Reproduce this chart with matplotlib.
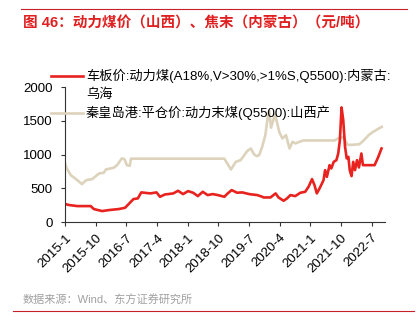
import pandas as pd
import matplotlib
matplotlib.use('Agg')
import matplotlib.pyplot as plt
from matplotlib.lines import Line2D

plt.rcParams['font.family'] = ['Liberation Sans', 'Noto Sans CJK SC', 'DejaVu Sans']

# 车板价:动力煤(A18%,V>30%,>1%S,Q5500):内蒙古:乌海
red_dates = ['2015-01-01', '2015-02-10', '2015-04-20', '2015-08-18', '2015-09-15',
             '2015-11-28', '2016-01-28', '2016-04-25', '2016-06-20', '2016-07-28',
             '2016-09-03', '2016-10-12', '2016-11-12', '2017-02-01', '2017-03-28',
             '2017-04-28', '2017-06-12', '2017-07-10', '2017-08-25', '2017-10-06',
             '2017-11-20', '2018-01-04', '2018-02-18', '2018-04-01', '2018-05-15',
             '2018-06-28', '2018-08-12', '2018-09-27', '2018-11-24', '2018-12-24',
             '2019-01-28', '2019-03-18', '2019-05-03', '2019-07-03', '2019-09-15',
             '2019-10-28', '2019-11-10', '2020-01-10', '2020-02-25', '2020-03-22',
             '2020-05-06', '2020-06-06', '2020-07-06', '2020-08-18', '2020-10-03',
             '2020-11-15', '2020-12-15', '2021-01-15', '2021-02-06', '2021-02-27',
             '2021-03-28', '2021-04-28', '2021-05-12', '2021-05-28', '2021-06-21',
             '2021-07-06', '2021-07-28', '2021-08-21', '2021-09-06', '2021-09-21',
             '2021-10-06', '2021-10-21', '2021-11-06', '2021-11-21', '2021-12-06',
             '2021-12-18', '2022-01-03', '2022-01-18', '2022-02-03', '2022-02-21',
             '2022-03-10', '2022-04-01', '2022-04-15', '2022-05-15', '2022-07-28',
             '2022-08-28', '2022-09-28']
red_values = [267, 252, 237, 237, 193,
              163, 178, 193, 212, 277,
              341, 351, 440, 425, 440,
              375, 410, 415, 425, 464,
              415, 459, 435, 385, 449,
              400, 415, 400, 375, 425,
              474, 435, 440, 415, 400,
              375, 365, 365, 425, 365,
              316, 351, 400, 385, 435,
              449, 523, 637, 548, 425,
              514, 622, 770, 671, 844,
              795, 893, 918, 1017, 1215,
              1700, 1511, 1116, 944, 967,
              770, 681, 893, 770, 918,
              810, 1017, 844, 844, 844,
              958, 1091]

# 秦皇岛港:平仓价:动力末煤(Q5500):山西产
beige_dates = ['2015-01-01', '2015-01-15', '2015-02-21', '2015-04-20', '2015-06-01',
               '2015-07-10', '2015-09-01', '2015-11-01', '2015-12-12', '2016-01-01',
               '2016-03-10', '2016-04-10', '2016-05-22', '2016-06-15', '2016-07-06',
               '2016-08-01', '2016-08-12', '2018-11-24', '2019-01-22', '2019-03-06',
               '2019-04-18', '2019-06-18', '2019-07-18', '2019-08-15', '2019-09-08',
               '2019-10-01', '2019-10-28', '2019-11-25', '2019-12-15', '2019-12-28',
               '2020-01-15', '2020-02-20', '2020-03-28', '2020-04-25', '2020-05-28',
               '2020-06-28', '2020-07-25', '2020-08-20', '2020-09-25', '2020-10-30',
               '2021-08-05', '2021-09-20', '2021-10-25', '2021-11-28', '2022-01-10',
               '2022-03-15', '2022-04-25', '2022-06-05', '2022-07-15', '2022-09-30']
beige_values = [870, 800, 696, 622, 563,
                622, 637, 721, 730, 780,
                805, 844, 944, 933, 844,
                834, 940, 940, 780, 893,
                918, 1056, 1091, 1007, 978,
                993, 1116, 1289, 1536, 1650,
                1400, 1600, 1338, 1240, 1289,
                1091, 1190, 1166, 1190, 1210,
                1210, 1255, 1255, 1145, 1145,
                1155, 1215, 1290, 1338, 1412]

y_ticks = [0, 500, 1000, 1500, 2000]
x_ticks = ['2015-1', '2015-10', '2016-7', '2017-4', '2018-1', '2018-10',
           '2019-7', '2020-4', '2021-1', '2021-10', '2022-7']
labels = ['车板价:动力煤(A18%,V>30%,>1%S,Q5500):内蒙古:\n乌海',
          '秦皇岛港:平仓价:动力末煤(Q5500):山西产']

red_c = '#E8221E'
beige_c = '#DDD3BC'

fig = plt.figure(figsize=(4.17, 3.29), dpi=100)
ax = fig.add_axes([0.156, 0.325, 0.767, 0.41])

ax.plot(pd.to_datetime(beige_dates), beige_values, color=beige_c, lw=1.9,
        solid_joinstyle='round')
ax.plot(pd.to_datetime(red_dates), red_values, color=red_c, lw=1.9,
        solid_joinstyle='round')

ax.set_ylim(0, 2000)
ax.set_yticks(y_ticks)
ax.set_xlim(pd.Timestamp('2015-01-01'), pd.Timestamp('2022-10-28'))
ax.set_xticks(pd.to_datetime([s + '-01' for s in x_ticks]))
ax.set_xticklabels(x_ticks, rotation=45, ha='right', rotation_mode='anchor')

for s in ['top', 'right']:
    ax.spines[s].set_visible(False)
for s in ['left', 'bottom']:
    ax.spines[s].set_color('#333333')
    ax.spines[s].set_linewidth(0.8)
ax.tick_params(axis='both', direction='out', length=3, width=0.8,
               color='#333333', labelsize=9.5, pad=4)
ax.tick_params(axis='y', pad=6)

# legend drawn by hand: handle sits on the first line of a wrapped label
W, H = 417, 329
for color, label, yp in [(red_c, labels[0], 75.7), (beige_c, labels[1], 112.5)]:
    fig.add_artist(Line2D([51 / W, 83 / W], [1 - yp / H, 1 - yp / H],
                          color=color, lw=1.9))
    fig.text(86 / W, 1 - (yp - 7) / H, label, fontsize=9.5, va='top',
             ha='left', linespacing=1.6)

fig.text(0.055, 0.93, '图 46：动力煤价（山西）、焦末（内蒙古）（元/吨）',
         color='#E02020', fontsize=10.5, fontweight='bold', va='center')
fig.text(0.055, 0.088, '数据来源：Wind、东方证券研究所', color='#A0A0A0',
         fontsize=8, va='center')
fig.add_artist(Line2D([0.05, 0.977], [0.973, 0.973], color='#C8202A', lw=0.8))
fig.add_artist(Line2D([0.031, 0.992], [0.054, 0.054], color='#C8202A', lw=0.8))

fig.savefig('out.png', dpi=100)
